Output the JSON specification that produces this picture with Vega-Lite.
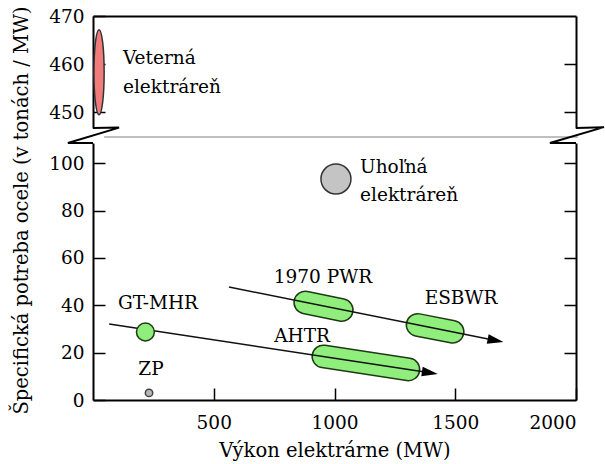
{
  "$schema": "https://vega.github.io/schema/vega-lite/v6.json",
  "padding": {"left": 10, "top": 5, "right": 0, "bottom": 4},
  "bounds": "flush",
  "spacing": 15,
  "resolve": {"scale": {"x": "independent", "y": "independent"}},
  "config": {
    "view": {"stroke": null},
    "font": "DejaVu Serif",
    "axis": {
      "domainColor": "#000", "domainWidth": 2,
      "tickColor": "#000", "tickWidth": 1.5, "tickSize": -12,
      "labelPadding": 21, "labelFont": "DejaVu Serif", "labelFontSize": 18.5, "labelColor": "#000",
      "titleFont": "DejaVu Serif", "titleFontSize": 19.5, "titleFontWeight": "normal", "titleColor": "#000",
      "grid": false
    },
    "text": {"font": "DejaVu Serif", "fontSize": 18.5, "color": "#000"}
  },
  "vconcat": [
    {
      "width": 483,
      "height": 112,
      "layer": [
        {
          "data": {"values": [{"zdroj": "Veterná elektráreň", "vykon": 25, "ocel": 458.3}]},
          "mark": {"type": "point", "shape": "M0,-1A0.12,1 0 1,1 0,1A0.12,1 0 1,1 0,-1Z", "size": 7225, "filled": true, "fill": "#f27c7c", "stroke": "#333", "strokeWidth": 1.5, "opacity": 1},
          "encoding": {
            "x": {"field": "vykon", "type": "quantitative", "scale": {"domain": [0, 2000], "nice": false}, "axis": {"orient": "top", "labels": false, "ticks": false, "title": null}},
            "y": {"field": "ocel", "type": "quantitative", "scale": {"domain": [446.7, 470], "nice": false, "zero": false}, "axis": {"orient": "left", "values": [450, 460, 470], "title": null}}
          }
        },
        {
          "data": {"values": [{"popis": "Veterná\nelektráreň", "vykon": 124, "ocel": 461.3}]},
          "mark": {"type": "text", "align": "left", "baseline": "middle", "lineBreak": "\n", "lineHeight": 29},
          "encoding": {
            "x": {"field": "vykon", "type": "quantitative", "scale": {"domain": [0, 2000], "nice": false}, "axis": {"orient": "top", "labels": false, "ticks": false, "title": null}},
            "y": {"field": "ocel", "type": "quantitative", "scale": {"domain": [446.7, 470], "nice": false, "zero": false}, "axis": {"orient": "right", "values": [450, 460], "labels": false, "title": null}},
            "text": {"field": "popis"}
          }
        }
      ],
      "resolve": {"axis": {"y": "independent"}}
    },
    {
      "width": 483,
      "height": 257,
      "layer": [
        {
          "data": {"values": [{"ciara": "sivá", "i": 1, "vykon": 46, "ocel": 111.0}, {"ciara": "sivá", "i": 2, "vykon": 2008, "ocel": 111.0}]},
          "mark": {"type": "line", "color": "#aaaaaa", "strokeWidth": 1.5, "clip": false},
          "encoding": {
            "x": {"field": "vykon", "type": "quantitative", "scale": {"domain": [0, 2000], "nice": false}, "axis": {"orient": "bottom", "values": [500, 1000, 1500, 2000], "format": "d", "labelPadding": 25, "title": "Výkon elektrárne (MW)", "titlePadding": 10}},
            "y": {"field": "ocel", "type": "quantitative", "scale": {"domain": [0, 108.5], "nice": false}, "axis": {"orient": "left", "values": [0, 20, 40, 60, 80, 100], "title": "Špecifická potreba ocele (v tonách / MW)", "titleX": -66, "titleY": 67, "titleAlign": "center", "titleBaseline": "alphabetic"}}
          }
        },
        {
          "data": {"values": [
            {"zlom": "ľavý", "i": 1, "vykon": 0, "ocel": 114.8},
            {"zlom": "ľavý", "i": 2, "vykon": 108, "ocel": 115.0},
            {"zlom": "ľavý", "i": 3, "vykon": -104, "ocel": 108.5},
            {"zlom": "ľavý", "i": 4, "vykon": 0, "ocel": 108.5},
            {"zlom": "pravý", "i": 1, "vykon": 2000, "ocel": 114.8},
            {"zlom": "pravý", "i": 2, "vykon": 2116, "ocel": 115.2},
            {"zlom": "pravý", "i": 3, "vykon": 1892, "ocel": 108.5},
            {"zlom": "pravý", "i": 4, "vykon": 2000, "ocel": 108.5}
          ]},
          "mark": {"type": "line", "color": "#000", "strokeWidth": 2, "clip": false},
          "encoding": {
            "x": {"field": "vykon", "type": "quantitative", "scale": {"domain": [0, 2000], "nice": false}, "axis": null},
            "y": {"field": "ocel", "type": "quantitative", "scale": {"domain": [0, 108.5], "nice": false}, "axis": {"orient": "right", "values": [20, 40, 60, 80, 100], "labels": false, "title": null}},
            "detail": {"field": "zlom"},
            "order": {"field": "i"}
          }
        },
        {
          "data": {"values": [
            {"reaktor": "1970 PWR", "vykon": 879, "ocel": 41.2},
            {"reaktor": "1970 PWR", "vykon": 1030, "ocel": 38.0},
            {"reaktor": "ESBWR", "vykon": 1344, "ocel": 31.7},
            {"reaktor": "ESBWR", "vykon": 1489, "ocel": 28.8},
            {"reaktor": "AHTR", "vykon": 954, "ocel": 18.4},
            {"reaktor": "AHTR", "vykon": 1306, "ocel": 12.9}
          ]},
          "layer": [
            {"mark": {"type": "line", "color": "#1f3a14", "strokeWidth": 24, "strokeCap": "round"}},
            {"mark": {"type": "line", "color": "#8fee7c", "strokeWidth": 21, "strokeCap": "round"}}
          ],
          "encoding": {
            "x": {"field": "vykon", "type": "quantitative", "scale": {"domain": [0, 2000], "nice": false}, "axis": null},
            "y": {"field": "ocel", "type": "quantitative", "scale": {"domain": [0, 108.5], "nice": false}, "axis": null},
            "detail": {"field": "reaktor"}
          }
        },
        {
          "data": {"values": [
            {"trend": "horný", "vykon": 563, "ocel": 47.7},
            {"trend": "horný", "vykon": 1667, "ocel": 25.1},
            {"trend": "dolný", "vykon": 67, "ocel": 32.1},
            {"trend": "dolný", "vykon": 1395, "ocel": 11.5}
          ]},
          "mark": {"type": "line", "color": "#111", "strokeWidth": 1.5},
          "encoding": {
            "x": {"field": "vykon", "type": "quantitative", "scale": {"domain": [0, 2000], "nice": false}, "axis": null},
            "y": {"field": "ocel", "type": "quantitative", "scale": {"domain": [0, 108.5], "nice": false}, "axis": null},
            "detail": {"field": "trend"}
          }
        },
        {
          "data": {"values": [{"trend": "horný", "vykon": 1667, "ocel": 25.1}]},
          "mark": {"type": "point", "shape": "M-1,-0.6L1,0L-1,0.6Z", "size": 256, "filled": true, "color": "#000", "opacity": 1, "angle": 11.35},
          "encoding": {
            "x": {"field": "vykon", "type": "quantitative", "scale": {"domain": [0, 2000], "nice": false}, "axis": null},
            "y": {"field": "ocel", "type": "quantitative", "scale": {"domain": [0, 108.5], "nice": false}, "axis": null}
          }
        },
        {
          "data": {"values": [{"trend": "dolný", "vykon": 1395, "ocel": 11.5}]},
          "mark": {"type": "point", "shape": "M-1,-0.6L1,0L-1,0.6Z", "size": 256, "filled": true, "color": "#000", "opacity": 1, "angle": 8.64},
          "encoding": {
            "x": {"field": "vykon", "type": "quantitative", "scale": {"domain": [0, 2000], "nice": false}, "axis": null},
            "y": {"field": "ocel", "type": "quantitative", "scale": {"domain": [0, 108.5], "nice": false}, "axis": null}
          }
        },
        {
          "data": {"values": [{"zdroj": "GT-MHR", "vykon": 217, "ocel": 28.7}]},
          "mark": {"type": "point", "shape": "circle", "size": 320, "filled": true, "fill": "#8fee7c", "stroke": "#1f3a14", "strokeWidth": 1.5, "opacity": 1},
          "encoding": {
            "x": {"field": "vykon", "type": "quantitative", "scale": {"domain": [0, 2000], "nice": false}, "axis": null},
            "y": {"field": "ocel", "type": "quantitative", "scale": {"domain": [0, 108.5], "nice": false}, "axis": null}
          }
        },
        {
          "data": {"values": [{"zdroj": "ZP", "vykon": 232, "ocel": 3.0}]},
          "mark": {"type": "point", "shape": "circle", "size": 55, "filled": true, "fill": "#b8b8b8", "stroke": "#444", "strokeWidth": 1.5, "opacity": 1},
          "encoding": {
            "x": {"field": "vykon", "type": "quantitative", "scale": {"domain": [0, 2000], "nice": false}, "axis": null},
            "y": {"field": "ocel", "type": "quantitative", "scale": {"domain": [0, 108.5], "nice": false}, "axis": null}
          }
        },
        {
          "data": {"values": [{"zdroj": "Uhoľná elektráreň", "vykon": 1006, "ocel": 93.3}]},
          "mark": {"type": "point", "shape": "circle", "size": 900, "filled": true, "fill": "#c4c4c4", "stroke": "#333", "strokeWidth": 1.5, "opacity": 1},
          "encoding": {
            "x": {"field": "vykon", "type": "quantitative", "scale": {"domain": [0, 2000], "nice": false}, "axis": null},
            "y": {"field": "ocel", "type": "quantitative", "scale": {"domain": [0, 108.5], "nice": false}, "axis": null}
          }
        },
        {
          "data": {"values": [
            {"popis": "GT-MHR", "vykon": 269, "ocel": 40.9},
            {"popis": "ZP", "vykon": 240, "ocel": 13.1},
            {"popis": "1970 PWR", "vykon": 952, "ocel": 51.9},
            {"popis": "AHTR", "vykon": 866, "ocel": 27.0},
            {"popis": "ESBWR", "vykon": 1524, "ocel": 43.0}
          ]},
          "mark": {"type": "text", "align": "center", "baseline": "middle"},
          "encoding": {
            "x": {"field": "vykon", "type": "quantitative", "scale": {"domain": [0, 2000], "nice": false}, "axis": null},
            "y": {"field": "ocel", "type": "quantitative", "scale": {"domain": [0, 108.5], "nice": false}, "axis": null},
            "text": {"field": "popis"}
          }
        },
        {
          "data": {"values": [{"popis": "Uhoľná\nelektráreň", "vykon": 1106, "ocel": 98.4}]},
          "mark": {"type": "text", "align": "left", "baseline": "middle", "lineBreak": "\n", "lineHeight": 28.5},
          "encoding": {
            "x": {"field": "vykon", "type": "quantitative", "scale": {"domain": [0, 2000], "nice": false}, "axis": null},
            "y": {"field": "ocel", "type": "quantitative", "scale": {"domain": [0, 108.5], "nice": false}, "axis": null},
            "text": {"field": "popis"}
          }
        }
      ],
      "resolve": {"axis": {"y": "independent", "x": "independent"}}
    }
  ]
}
